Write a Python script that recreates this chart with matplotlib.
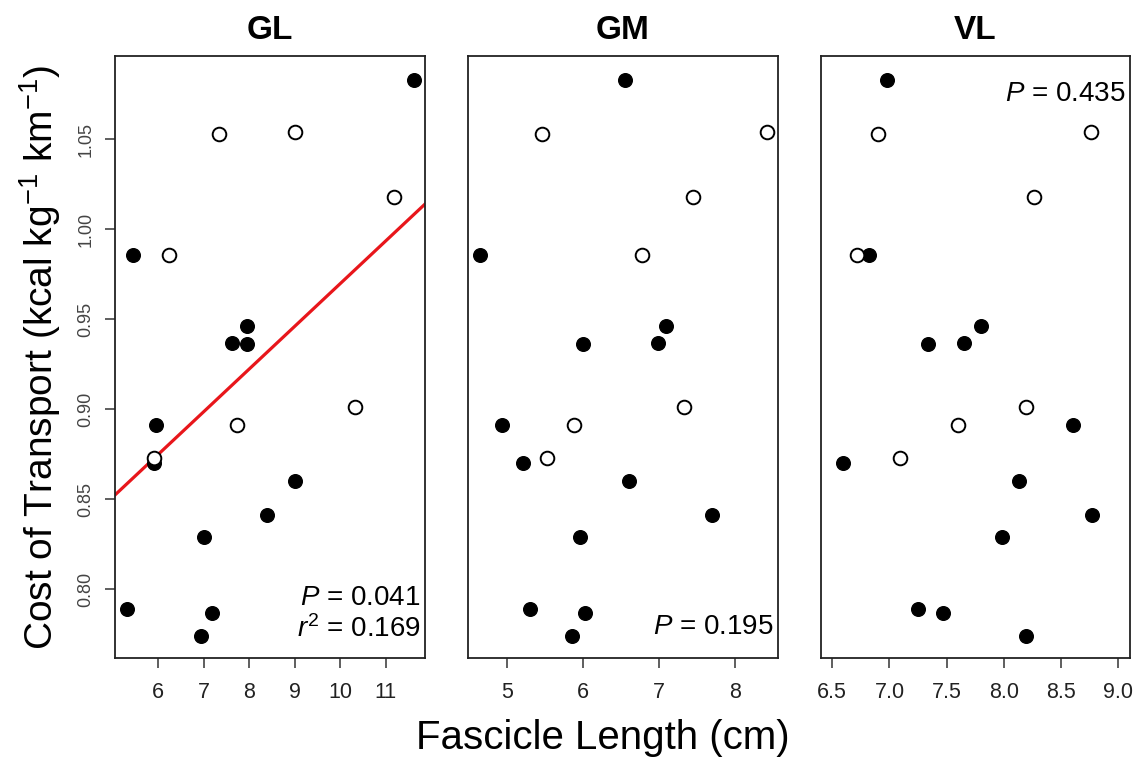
import matplotlib
matplotlib.use("Agg")
import matplotlib.pyplot as plt
import numpy as np

plt.rcParams['font.family'] = ['Liberation Sans', 'DejaVu Sans']
plt.rcParams['mathtext.fontset'] = 'custom'
plt.rcParams['mathtext.rm'] = 'Liberation Sans'
plt.rcParams['mathtext.it'] = 'Liberation Sans:italic'
plt.rcParams['mathtext.bf'] = 'Liberation Sans:bold'

# Cost of transport (shared y values)
cot_filled = [1.083, 0.986, 0.946, 0.937, 0.936, 0.891, 0.870, 0.860, 0.841, 0.829, 0.789, 0.787, 0.774]
cot_open = [1.053, 1.054, 1.018, 0.986, 0.901, 0.891, 0.873]

# Fascicle lengths (cm)
gl_filled = [11.62, 5.45, 7.95, 7.62, 7.96, 5.94, 5.91, 9.00, 8.39, 7.01, 5.30, 7.18, 6.93]
gl_open = [7.34, 9.00, 11.19, 6.24, 10.32, 7.74, 5.91]
gm_filled = [6.55, 4.64, 7.09, 6.99, 6.00, 4.93, 5.21, 6.60, 7.70, 5.96, 5.30, 6.02, 5.85]
gm_open = [5.46, 8.41, 7.45, 6.78, 7.33, 5.88, 5.52]
vl_filled = [6.98, 6.82, 7.80, 7.65, 7.34, 8.60, 6.59, 8.13, 8.77, 7.98, 7.25, 7.47, 8.19]
vl_open = [6.90, 8.76, 8.26, 6.72, 8.19, 7.60, 7.09]

panels = ["GL", "GM", "VL"]
xlims = [(5.046, 11.866), (4.483, 8.565), (6.399, 9.102)]
xticks = [[6, 7, 8, 9, 10, 11], [5, 6, 7, 8], [6.5, 7.0, 7.5, 8.0, 8.5, 9.0]]
xticklabels = [["6", "7", "8", "9", "10", "11"], ["5", "6", "7", "8"],
               ["6.5", "7.0", "7.5", "8.0", "8.5", "9.0"]]
ylim = (0.7618, 1.0963)
yticks = [0.80, 0.85, 0.90, 0.95, 1.00, 1.05]
yticklabels = ["0.80", "0.85", "0.90", "0.95", "1.00", "1.05"]

# GL regression line
gl_intercept = 0.7328
gl_slope = 0.0237

stats = [["$P$ = 0.041", "$r^2$ = 0.169"], ["$P$ = 0.195"], ["$P$ = 0.435"]]

W, H = 1136, 763
fig = plt.figure(figsize=(W / 100, H / 100), dpi=100)
lefts = [115, 467.7, 820.7]
widths = [310, 310.6, 309.3]
top_px, bot_px = 56, 658

filled_data = [gl_filled, gm_filled, vl_filled]
open_data = [gl_open, gm_open, vl_open]

axes = []
for i in range(3):
    ax = fig.add_axes([lefts[i] / W, (H - bot_px) / H, widths[i] / W, (bot_px - top_px) / H])
    axes.append(ax)
    ax.plot(filled_data[i], cot_filled, 'o', ms=9.8, mfc='black', mec='black', mew=1.0, zorder=3)
    ax.plot(open_data[i], cot_open, 'o', ms=9.8, mfc='white', mec='black', mew=1.4, zorder=3)
    ax.set_xlim(*xlims[i])
    ax.set_ylim(*ylim)
    ax.set_xticks(xticks[i])
    ax.set_xticklabels(xticklabels[i], fontsize=15.5, color='#222222')
    ax.tick_params(axis='x', direction='out', length=7, width=1.1, pad=10, color='#333333')
    if i == 0:
        ax.set_yticks(yticks)
        ax.set_yticklabels(yticklabels, rotation=90, va='center', fontsize=13, color='#444444')
        ax.tick_params(axis='y', direction='out', length=7, width=1.1, pad=8, color='#333333')
    else:
        ax.set_yticks([])
    for s in ax.spines.values():
        s.set_linewidth(1.3)
        s.set_color('#222222')
    ax.set_title(panels[i], fontsize=24, fontweight='bold', pad=12)

# regression line in GL
xs = np.array(xlims[0])
axes[0].plot(xs, gl_intercept + gl_slope * xs, color='#e8161b', lw=2.3, zorder=2)

# annotations
axes[0].text(0.985, 0.088, stats[0][0], transform=axes[0].transAxes, ha='right', va='baseline', fontsize=20)
axes[0].text(0.985, 0.035, stats[0][1], transform=axes[0].transAxes, ha='right', va='baseline', fontsize=20)
axes[1].text(0.985, 0.040, stats[1][0], transform=axes[1].transAxes, ha='right', va='baseline', fontsize=20)
axes[2].text(0.985, 0.925, stats[2][0], transform=axes[2].transAxes, ha='right', va='baseline', fontsize=20)

fig.text(40 / W, 1 - 357 / H, "Cost of Transport (kcal kg$^{-1}$ km$^{-1}$)", rotation=90,
         ha='center', va='center', fontsize=28)
fig.text(603 / W, 1 - 738 / H, "Fascicle Length (cm)", ha='center', va='center', fontsize=29)

fig.savefig("out.png", dpi=100)
